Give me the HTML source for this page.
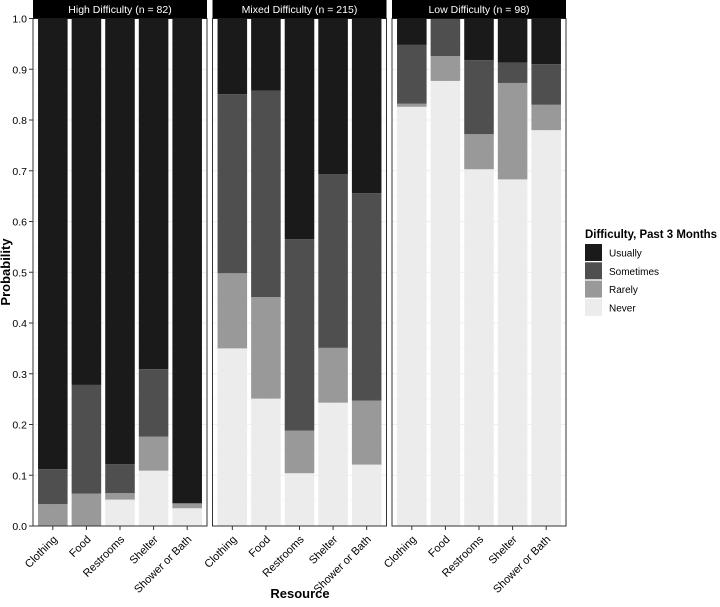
<!DOCTYPE html>
<html><head><meta charset="utf-8"><style>
body{margin:0;background:#fff;font-family:"Liberation Sans",Arial,sans-serif}
</style></head><body>
<svg id="c" width="720" height="602" xmlns="http://www.w3.org/2000/svg" font-family="Liberation Sans, Arial, sans-serif"></svg>
<script>
const panels=["High Difficulty (n = 82)","Mixed Difficulty (n = 215)","Low Difficulty (n = 98)"];
const categories=["Clothing","Food","Restrooms","Shelter","Shower or Bath"];
const levels=["Never","Rarely","Sometimes","Usually"];
const neverVals=[[0,0,0.052,0.109,0.035],[0.35,0.251,0.104,0.243,0.121],[0.826,0.877,0.703,0.683,0.780]];
const rarelyVals=[[0.043,0.064,0.013,0.067,0.009],[0.148,0.200,0.084,0.108,0.126],[0.006,0.049,0.069,0.190,0.050]];
const sometimesVals=[[0.069,0.214,0.057,0.133,0.001],[0.353,0.407,0.377,0.342,0.409],[0.116,0.074,0.146,0.040,0.080]];
const usuallyVals=[[0.888,0.722,0.878,0.691,0.955],[0.149,0.142,0.435,0.307,0.344],[0.052,0,0.082,0.087,0.090]];
const yTicks=[0,0.1,0.2,0.3,0.4,0.5,0.6,0.7,0.8,0.9,1.0];
const colors={Never:"#ececec",Rarely:"#999999",Sometimes:"#4f4f4f",Usually:"#1a1a1a"};
const NS="http://www.w3.org/2000/svg",svg=document.getElementById('c');
function mk(t,a,p){const e=document.createElementNS(NS,t);for(const k in a)e.setAttribute(k,a[k]);(p||svg).appendChild(e);return e;}
const plotTop=18.5,plotBot=526;
const y=v=>plotBot-v*(plotBot-plotTop);
const pl=[33,212.5,392],pw=174,step=pw/5.18;
const series=[neverVals,rarelyVals,sometimesVals,usuallyVals];
panels.forEach((title,p)=>{
  const g=mk('g',{});
  
  
  const x0=pl[p];
  mk('rect',{x:x0,y:plotTop,width:pw,height:plotBot-plotTop,fill:'#fff'},g);
  yTicks.forEach(t=>{const l=mk('line',{x1:x0,x2:x0+pw,y1:y(t),y2:y(t),stroke:'#ebebeb','stroke-width':0.8},g);
    if(t<1){mk('line',{x1:x0,x2:x0+pw,y1:y(t+0.05),y2:y(t+0.05),stroke:'#f3f3f3','stroke-width':0.5},g);}});
  categories.forEach((c,i)=>{
    const cx=x0+(i+0.59)*step, bw=step*0.88;
    mk('line',{x1:cx,x2:cx,y1:plotTop,y2:plotBot,stroke:'#ebebeb','stroke-width':0.8},g);
    let cum=0;
    levels.forEach((lv,k)=>{
      const v=series[k][p][i];
      const r=mk('rect',{x:cx-bw/2,y:y(cum+v),width:bw,height:y(cum)-y(cum+v),fill:colors[lv]},g);
      
      
      cum+=v;
    });
    mk('line',{x1:cx,x2:cx,y1:plotBot,y2:plotBot+4,stroke:'#333'},g);
    const ax=cx+5, ay=plotBot+14;
    const tl=mk('text',{x:ax,y:ay,'font-size':11,'text-anchor':'end',fill:'#000',transform:`rotate(-45 ${ax} ${ay})`},g);
    tl.textContent=c;
    
    
  });
  mk('rect',{x:x0,y:plotTop,width:pw,height:plotBot-plotTop,fill:'none',stroke:'#333','stroke-width':1},g);
  const s=mk('rect',{x:x0,y:0,width:pw,height:plotTop,fill:'#000'},g);
  
  
  const st=mk('text',{x:x0+pw/2,y:13,'font-size':10.5,'text-anchor':'middle',fill:'#fff'},g);
  st.textContent=title;
  
  
});
yTicks.forEach(t=>{
  mk('line',{x1:29,x2:33,y1:y(t),y2:y(t),stroke:'#333'});
  const tt=mk('text',{x:27,y:y(t)+4,'font-size':10.5,'text-anchor':'end',fill:'#000'});
  tt.textContent=t.toFixed(1);
  
  
});
const yt=mk('text',{x:10,y:272,'font-size':13,'font-weight':'bold','text-anchor':'middle',transform:'rotate(-90 10 272)'});
yt.textContent='Probability';


const xt=mk('text',{x:300,y:598,'font-size':13,'font-weight':'bold','text-anchor':'middle'});
xt.textContent='Resource';


const lg=mk('g',{});


const lt=mk('text',{x:585,y:238,'font-size':11.5,'font-weight':'bold',textLength:132,lengthAdjust:'spacingAndGlyphs'},lg);
lt.textContent='Difficulty, Past 3 Months';
["Usually","Sometimes","Rarely","Never"].forEach((lv,i)=>{
  const ky=244+i*18.3;
  const r=mk('rect',{x:585,y:ky,width:17,height:17,fill:colors[lv]},lg);
  
  
  const t=mk('text',{x:609,y:ky+12.5,'font-size':10},lg);
  t.textContent=lv;
  
  
});
</script>
</body></html>
